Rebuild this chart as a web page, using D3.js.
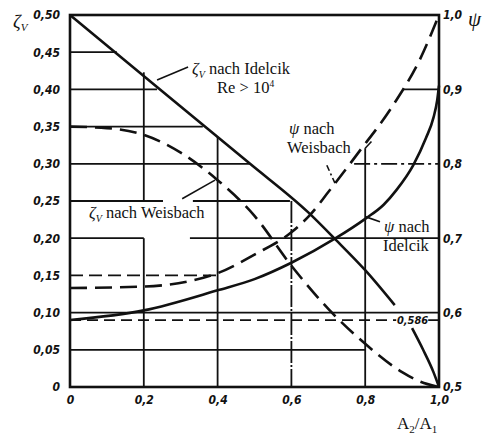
<!DOCTYPE html>
<html>
<head>
<meta charset="utf-8">
<script src="https://cdn.jsdelivr.net/npm/d3@7"></script>
<style>
  body { margin: 0; background: #fff; }
  .tick-lbl { font-family: "Liberation Sans Narrow", "DejaVu Sans Condensed", sans-serif; font-weight: bold; font-style: italic; font-size: 12px; fill: #111; }
  .lbl { font-family: "Liberation Serif", "DejaVu Serif", serif; font-size: 16.5px; fill: #111; }
</style>
</head>
<body>
<svg id="chart" width="486" height="437"></svg>
<script>
// ticks
const xTicks = [0, 0.2, 0.4, 0.6, 0.8, 1.0];
const zetaTicks = [0, 0.05, 0.10, 0.15, 0.20, 0.25, 0.30, 0.35, 0.40, 0.45, 0.50];
const psiTicks = [0.5, 0.6, 0.7, 0.8, 0.9, 1.0];

// curves, [A2/A1, value]; null = gap at the 0,586 label
const zetaIdelcik = [[0, 0.5], [0.244, 0.40], [0.488, 0.30], [0.645, 0.235], [0.72, 0.198], [0.8, 0.157], [0.88, 0.11],
  null, [0.927, 0.079], [0.957, 0.05], [0.985, 0.02], [1.0, 0.0]];
const zetaWeisbach = [[0, 0.35], [0.1, 0.348], [0.2, 0.339], [0.3, 0.315], [0.4, 0.278], [0.5, 0.23], [0.6, 0.163],
  [0.7, 0.105], [0.8, 0.058], [0.9, 0.02], [0.95, 0.007], [1.0, 0.0]];
const psiIdelcik = [[0, 0.59], [0.2, 0.603], [0.4, 0.630], [0.5, 0.645], [0.6, 0.667], [0.72, 0.70], [0.8, 0.726],
  [0.85, 0.745], [0.885, 0.765], [0.93, 0.798], [0.965, 0.835], [0.985, 0.862], [0.995, 0.885], [1.0, 0.905]];
const psiWeisbach = [[0, 0.633], [0.2, 0.635], [0.4, 0.653], [0.5, 0.678], [0.6, 0.708], [0.65, 0.731], [0.7, 0.762],
  [0.78, 0.814], [0.876, 0.879], [0.95, 0.942], [1.0, 1.0]];
const psiLimit = 0.59;   // drawn height of the 0,586 line
const psiLimitText = '0,586';

// partial grid lines (zeta value, from x, to x)
const hGrid = [[0.45, 0, 0.127], [0.40, 0, 0.236], [0.35, 0, 0.36], [0.30, 0, 0.488],
  [0.25, 0, 0.252], [0.25, 0.333, 0.596], [0.20, 0, 0.2], [0.20, 0.325, 1],
  [0.10, 0, 1], [0.05, 0, 0.8]];
const hGridDashed = [[0.15, 0, 0.4]];
const psiGrid = [[0.9, 0.902, 1]];
const psiGridDashDot = [[0.8, 0.77, 1]];
// verticals (x, from zeta, to zeta)
const vGrid = [[0.2, 0.423, 0.25], [0.2, 0.20, 0], [0.4, 0.336, 0], [0.8, 0.321, 0]];
const vGridDashDot = [[0.6, 0.25, 0]];
// leader lines (x0, zeta0, x1, zeta1)
const leaders = [[0.236, 0.4126, 0.320, 0.430], [0.304, 0.253, 0.393, 0.278], [0.80, 0.229, 0.84, 0.222], [0.8, 0.321, 0.817, 0.33]];
const leadersDashDot = [[0.696, 0.298, 0.718, 0.274]];

const svg = d3.select('#chart');
const x = d3.scaleLinear().domain([0, 1]).range([70, 439]);
const yZ = d3.scaleLinear().domain([0, 0.5]).range([387, 15]);
const yP = d3.scaleLinear().domain([0.5, 1]).range([387, 15]);
const ink = '#111';

const grid = svg.append('g').attr('stroke', ink).attr('fill', 'none');
function hLines(data, y, width, dash) {
  grid.selectAll(null).data(data).enter().append('line')
    .attr('x1', d => x(d[1])).attr('x2', d => x(d[2]))
    .attr('y1', d => y(d[0])).attr('y2', d => y(d[0]))
    .attr('stroke-width', width).attr('stroke-dasharray', dash);
}
hLines(hGrid, yZ, 1.8, null);
hLines(hGridDashed, yZ, 1.8, '13,6');
hLines(psiGrid, yP, 1.8, null);
hLines(psiGridDashDot, yP, 1.8, '16,4,3,4');
hLines([[psiLimit, 0, 1]], yP, 1.8, '11,6');

function vLines(data, width, dash) {
  grid.selectAll(null).data(data).enter().append('line')
    .attr('x1', d => x(d[0])).attr('x2', d => x(d[0]))
    .attr('y1', d => yZ(d[1])).attr('y2', d => yZ(d[2]))
    .attr('stroke-width', width).attr('stroke-dasharray', dash);
}
vLines(vGrid, 1.8, null);
vLines(vGridDashDot, 1.8, '22,2,2,2');

function segs(data, width, dash) {
  grid.selectAll(null).data(data).enter().append('line')
    .attr('x1', d => x(d[0])).attr('y1', d => yZ(d[1]))
    .attr('x2', d => x(d[2])).attr('y2', d => yZ(d[3]))
    .attr('stroke-width', width).attr('stroke-dasharray', dash);
}
segs(leaders, 1.6, null);
segs(leadersDashDot, 1.6, '6,3,2,3');

// frame
svg.append('rect').attr('x', x(0)).attr('y', yZ(0.5))
  .attr('width', x(1) - x(0)).attr('height', yZ(0) - yZ(0.5))
  .attr('fill', 'none').attr('stroke', ink).attr('stroke-width', 2.6);

// curves
const lineZ = d3.line().defined(d => d).x(d => x(d[0])).y(d => yZ(d[1])).curve(d3.curveMonotoneX);
const lineP = d3.line().x(d => x(d[0])).y(d => yP(d[1])).curve(d3.curveMonotoneX);
const curves = svg.append('g').attr('fill', 'none').attr('stroke', ink).attr('stroke-width', 2.6);
curves.append('path').attr('d', lineZ(zetaIdelcik));
curves.append('path').attr('d', lineZ(zetaWeisbach)).attr('stroke-dasharray', '17,8');
curves.append('path').attr('d', lineP(psiIdelcik));
curves.append('path').attr('d', lineP(psiWeisbach)).attr('stroke-dasharray', '17,8');

// axes
const fmt2 = d => d === 0 ? '0' : d.toFixed(2).replace('.', ',');
const fmt1 = d => d === 0 ? '0' : d.toFixed(1).replace('.', ',');
function styleAxis(g) {
  g.select('.domain').remove();
  g.selectAll('.tick line').remove();
  g.selectAll('text').attr('class', 'tick-lbl');
}
svg.append('g').attr('transform', 'translate(70,0)')
  .call(d3.axisLeft(yZ).tickValues(zetaTicks).tickSize(0).tickPadding(10).tickFormat(fmt2)).call(styleAxis);
svg.append('g').attr('transform', 'translate(439,0)')
  .call(d3.axisRight(yP).tickValues(psiTicks).tickSize(0).tickPadding(4).tickFormat(d => d.toFixed(1).replace('.', ','))).call(styleAxis);
svg.append('g').attr('transform', 'translate(0,387)')
  .call(d3.axisBottom(x).tickValues(xTicks).tickSize(0).tickPadding(8).tickFormat(fmt1)).call(styleAxis);

// 0,586 label with white background
const lim = svg.append('g');
lim.append('rect').attr('x', x(0.884)).attr('y', yP(psiLimit) - 6).attr('width', 32).attr('height', 12).attr('fill', '#fff');
lim.append('text').attr('class', 'tick-lbl').attr('x', x(0.886)).attr('y', yP(psiLimit)).attr('dy', '0.35em')
  .style('font-size', '11px').text(psiLimitText);

// labels
function zetaLabel(t, px, py, rest) {
  const txt = t.append('text').attr('class', 'lbl').attr('x', px).attr('y', py);
  txt.append('tspan').style('font-style', 'italic').text('ζ');
  txt.append('tspan').style('font-style', 'italic').style('font-size', '10px').attr('dy', 4).text('V');
  txt.append('tspan').attr('dy', -4).text(rest);
  return txt;
}
function psiLabel(t, px, py, rest) {
  const txt = t.append('text').attr('class', 'lbl').attr('x', px).attr('y', py);
  txt.append('tspan').style('font-style', 'italic').text('ψ');
  txt.append('tspan').text(rest);
  return txt;
}
const labels = svg.append('g');
zetaLabel(labels, 192, 74, ' nach Idelcik');
const re = labels.append('text').attr('class', 'lbl').attr('x', 217).attr('y', 93);
re.append('tspan').text('Re > 10');
re.append('tspan').style('font-size', '9.5px').attr('dy', -6).text('4');
zetaLabel(labels, 89, 218, ' nach Weisbach');
psiLabel(labels, 289, 134, ' nach');
labels.append('text').attr('class', 'lbl').attr('x', 287).attr('y', 153).text('Weisbach');
psiLabel(labels, 384, 232, ' nach');
labels.append('text').attr('class', 'lbl').attr('x', 383).attr('y', 251).text('Idelcik');

// axis titles
const zt = labels.append('text').attr('class', 'lbl').attr('x', 13).attr('y', 28).style('font-size', '19px');
zt.append('tspan').style('font-style', 'italic').text('ζ');
zt.append('tspan').style('font-style', 'italic').style('font-size', '11px').attr('dy', 3).text('V');
labels.append('text').attr('class', 'lbl').attr('x', 468).attr('y', 26).style('font-size', '21px').style('font-style', 'italic').text('ψ');
const ax = labels.append('text').attr('class', 'lbl').attr('x', 397).attr('y', 429).style('font-size', '17px');
ax.append('tspan').text('A');
ax.append('tspan').style('font-size', '11px').attr('dy', 4).text('2');
ax.append('tspan').attr('dy', -4).text('/A');
ax.append('tspan').style('font-size', '11px').attr('dy', 4).text('1');
</script>
</body>
</html>
